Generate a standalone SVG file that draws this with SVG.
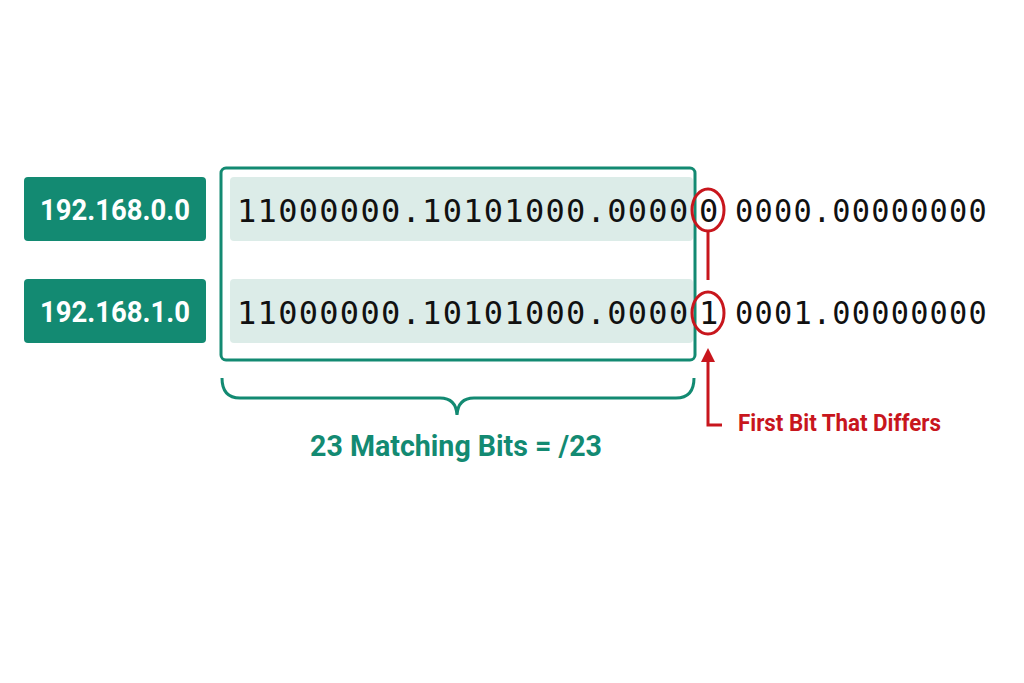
<svg xmlns="http://www.w3.org/2000/svg" width="1024" height="683" viewBox="0 0 1024 683">
<style>
.lbl{fill:#138a72}
.lt{font-family:Roboto,"Liberation Sans",sans-serif;font-weight:bold;font-size:29px;fill:#fff;text-anchor:middle}
.bits{font-family:"DejaVu Sans Mono","Liberation Mono",monospace;font-size:32px;letter-spacing:1.3px;fill:#111}
.row{fill:#dcece8}
.red{stroke:#c8161d;stroke-width:3;fill:none}
</style>
<defs><marker id="ah" markerWidth="14" markerHeight="14" refX="2" refY="7" orient="auto" markerUnits="userSpaceOnUse" viewBox="0 0 14 14"><path d="M0,0L14,7L0,14z" fill="#c8161d"/></marker></defs>
<rect width="1024" height="683" fill="#fff"/>
<g id="n1"><rect class="lbl" x="24" y="177" width="182" height="64" rx="4"/><text class="lt" x="115" y="220" textLength="150" lengthAdjust="spacingAndGlyphs">192.168.0.0</text></g>
<g id="n2"><rect class="lbl" x="24" y="279" width="182" height="64" rx="4"/><text class="lt" x="115" y="322" textLength="150" lengthAdjust="spacingAndGlyphs">192.168.1.0</text></g>
<g id="match">
<rect class="row" x="230" y="177" width="463" height="64" rx="4"/>
<rect class="row" x="230" y="279" width="463" height="64" rx="4"/>
<rect x="221" y="168" width="474" height="192" rx="5" fill="none" stroke="#138a72" stroke-width="3"/>
</g>
<g id="bits">
<text class="bits" x="237" y="222">11000000.10101000.0000</text>
<text class="bits" x="699" y="222">0</text>
<text class="bits" x="735" y="222" textLength="253" lengthAdjust="spacingAndGlyphs">0000.00000000</text>
<text class="bits" x="237" y="324">11000000.10101000.0000</text>
<text class="bits" x="699" y="324">1</text>
<text class="bits" x="735" y="324" textLength="253" lengthAdjust="spacingAndGlyphs">0001.00000000</text>
</g>
<g id="connectors">
<ellipse class="red" cx="708" cy="210" rx="16" ry="21"/>
<ellipse class="red" cx="708" cy="313" rx="16" ry="21"/>
<line class="red" x1="708" y1="231" x2="708" y2="280"/>
<path class="red" d="M722,425H708V360" marker-end="url(#ah)"/>
<path d="M222,378Q222,398 240,398H440Q456,398 457,415Q458,398 474,398H676Q694,398 694,378" fill="none" stroke="#138a72" stroke-width="3"/>
</g>
<text x="738" y="431" font-family="Roboto,'Liberation Sans',sans-serif" font-weight="bold" font-size="23" fill="#c8161d" textLength="203" lengthAdjust="spacingAndGlyphs">First Bit That Differs</text>
<text x="456" y="456" text-anchor="middle" font-family="Roboto,'Liberation Sans',sans-serif" font-weight="bold" font-size="30" fill="#138a72" textLength="292" lengthAdjust="spacingAndGlyphs">23 Matching Bits = /23</text>
</svg>
